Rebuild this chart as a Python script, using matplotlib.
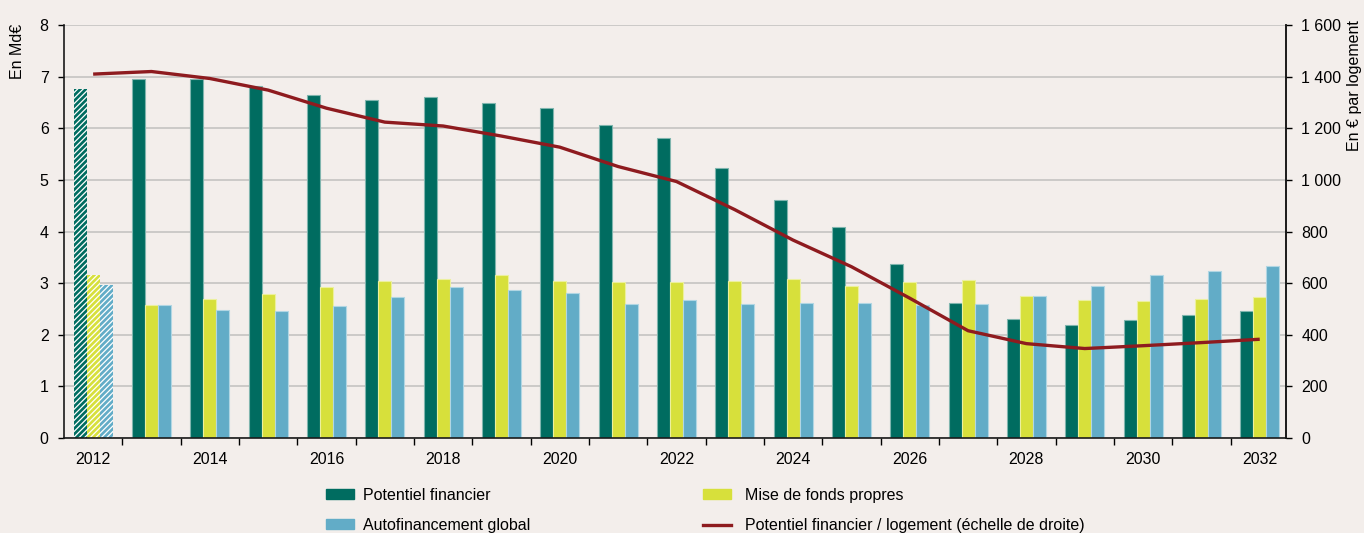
import numpy as np
import matplotlib.pyplot as plt
from matplotlib.ticker import FuncFormatter
from matplotlib.patches import Patch
from matplotlib.lines import Line2D

plt.rcParams['font.family'] = ['Liberation Sans', 'DejaVu Sans']
plt.rcParams['hatch.linewidth'] = 0.9

# --- données ---
years = list(range(2012, 2033))
potentiel = [6.77, 6.96, 6.95, 6.82, 6.65, 6.55, 6.61, 6.50, 6.40, 6.07, 5.82,
             5.23, 4.61, 4.08, 3.38, 2.62, 2.30, 2.20, 2.28, 2.38, 2.47]
mise_fonds = [3.16, 2.58, 2.70, 2.80, 2.93, 3.05, 3.08, 3.15, 3.05, 3.03, 3.02,
              3.04, 3.08, 2.95, 3.03, 3.07, 2.76, 2.68, 2.66, 2.70, 2.74]
autofin = [2.97, 2.57, 2.48, 2.46, 2.55, 2.73, 2.92, 2.86, 2.81, 2.60, 2.68,
           2.59, 2.62, 2.62, 2.58, 2.59, 2.76, 2.95, 3.16, 3.24, 3.33]
par_logement = [1410, 1420, 1393, 1348, 1278, 1224, 1209, 1170, 1127, 1052, 994,
                885, 767, 664, 542, 416, 366, 347, 358, 370, 383]

BG = '#f3eeeb'
VERT = '#006c60'
JAUNE = '#d7e03b'
BLEU = '#62acc7'
ROUGE = '#8e1b1f'
FS = 11.5

fig = plt.figure(figsize=(13.64, 5.33), dpi=100, facecolor=BG)
ax = fig.add_axes([0.0469, 0.178, 0.8959, 0.775], facecolor=BG)

x = np.arange(len(years))
w = 0.223
series = [(potentiel, VERT, '#7fb5ae', -w), (mise_fonds, JAUNE, '#ecf09d', 0), (autofin, BLEU, '#b1d6e3', w)]

for vals, col, edge, off in series:
    # 2012 = année réalisée, hachurée
    ax.bar(x[0] + off, vals[0], w, color=col, edgecolor='white', linewidth=0,
           hatch='//////', zorder=2)
    ax.bar(x[1:] + off, vals[1:], w, color=col, edgecolor=edge, linewidth=0.8, zorder=2)

ax.set_xlim(-0.5, 20.45)
ax.set_ylim(0, 8)
ax.set_yticks(range(0, 9))
ax.yaxis.grid(True, color='#c5c3c2', linewidth=1.2, zorder=0)
ax.set_axisbelow(True)

ax.set_xticks(x[::2])
ax.set_xticklabels([str(y) for y in years[::2]])
ax.set_xticks(np.arange(0.5, 20, 1), minor=True)
ax.tick_params(axis='x', which='major', length=0, pad=10, labelsize=FS)
ax.tick_params(axis='x', which='minor', length=5, width=1, direction='out')
ax.tick_params(axis='y', length=4, width=1, direction='out', labelsize=FS, pad=7)

ax.spines['top'].set_visible(False)
for s in ['left', 'bottom', 'right']:
    ax.spines[s].set_linewidth(1.2)
    ax.spines[s].set_color('#1a1a1a')

ax2 = ax.twinx()
ax2.plot(x, par_logement, color=ROUGE, linewidth=2.4, solid_capstyle='butt', zorder=3)
ax2.set_ylim(0, 1600)
ax2.set_yticks(range(0, 1601, 200))
ax2.yaxis.set_major_formatter(FuncFormatter(lambda v, p: f"{int(v):,}".replace(',', ' ')))
ax2.tick_params(axis='y', length=4, width=1, direction='out', labelsize=FS, pad=7)
for s in ['top', 'left', 'bottom']:
    ax2.spines[s].set_visible(False)
ax2.spines['right'].set_linewidth(1.2)
ax2.spines['right'].set_color('#1a1a1a')

fig.text(0.013, 0.955, 'En Md€', rotation=90, ha='center', va='top', fontsize=FS)
fig.text(0.993, 0.962, 'En € par logement', rotation=90, ha='center', va='top', fontsize=FS)

# légende sous le graphique, deux colonnes
leg_kw = dict(loc='upper left', frameon=False, fontsize=FS, handlelength=1.75,
              handleheight=0.6, labelspacing=0.95, borderpad=0, borderaxespad=0)
leg1 = fig.legend([Patch(color=VERT), Patch(color=BLEU)],
                  ['Potentiel financier', 'Autofinancement global'],
                  bbox_to_anchor=(0.239, 0.085), handletextpad=0.55, **leg_kw)
leg2 = fig.legend([Patch(color=JAUNE), Line2D([0], [0], color=ROUGE, linewidth=2.4)],
                  ['Mise de fonds propres', 'Potentiel financier / logement (échelle de droite)'],
                  bbox_to_anchor=(0.5154, 0.085), handletextpad=0.85, **leg_kw)

fig.savefig('out.png', dpi=100, facecolor=BG)
